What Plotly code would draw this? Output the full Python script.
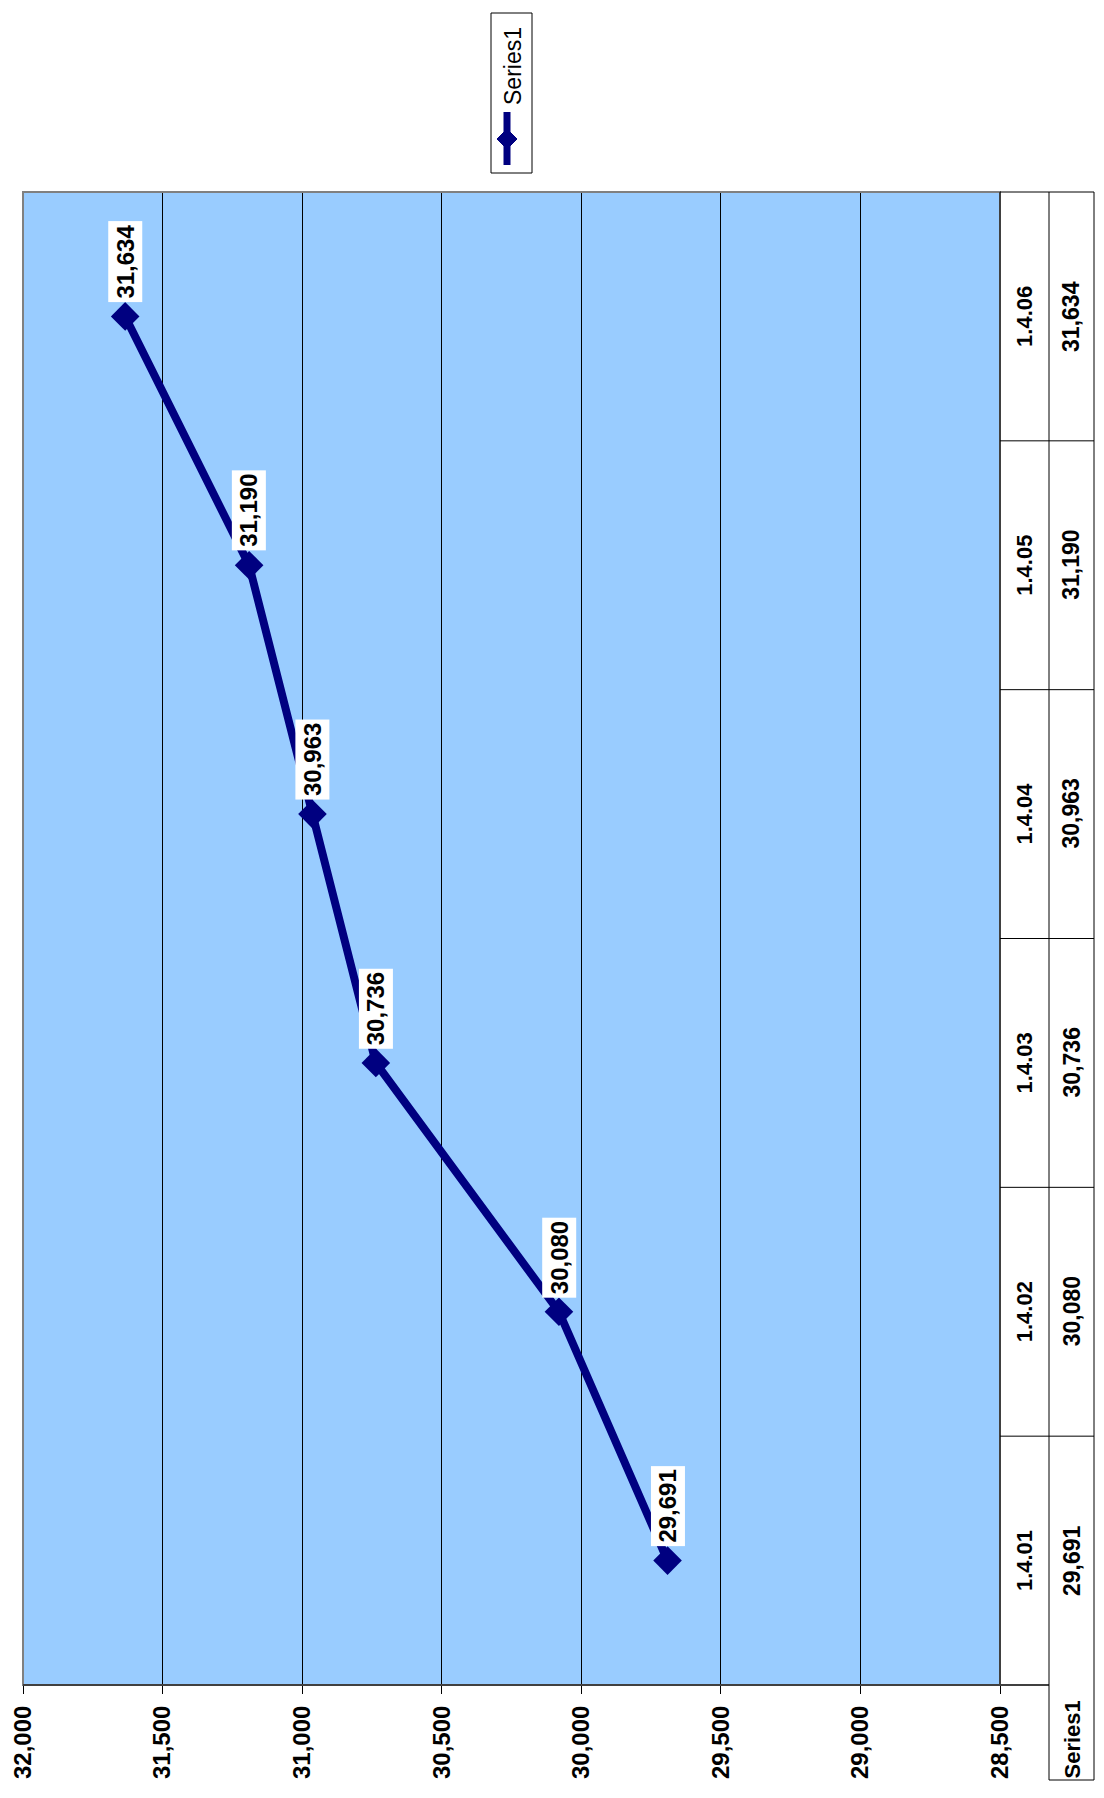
import plotly.graph_objects as go

# ---- data ----
categories = ["1.4.01", "1.4.02", "1.4.03", "1.4.04", "1.4.05", "1.4.06"]
values = [29691, 30080, 30736, 30963, 31190, 31634]
series_name = "Series1"
axis_min, axis_max, axis_step = 28500, 32000, 500

W, H = 1104, 1798
PX0, PX1, PY0, PY1 = 23, 1000, 192, 1685   # plot area in pixels
COL1, COL2 = 1049, 1094                    # data table column borders
NAVY = "#000080"
FONT = "Liberation Sans, Arial, sans-serif"


def px(x):
    return x / W


def py(y):
    return 1 - y / H


fig = go.Figure()
fig.add_trace(go.Scatter(
    x=values, y=categories, mode="lines+markers", name=series_name,
    line=dict(color=NAVY, width=8),
    marker=dict(symbol="diamond", size=22, color=NAVY),
    cliponaxis=False, showlegend=False,
))

annotations = []
# data labels
for c, v in zip(categories, values):
    annotations.append(dict(
        x=v, y=c, xref="x", yref="y", text=f"{v:,}", textangle=-90,
        showarrow=False, yanchor="bottom", xanchor="center", yshift=14,
        bgcolor="white", borderpad=3,
        font=dict(family=FONT, size=24, color="black", weight="bold"),
    ))

shapes = []
# plot border (gray)
shapes.append(dict(type="rect", xref="paper", yref="paper",
                   x0=px(PX0), x1=px(PX1), y0=py(PY1), y1=py(PY0),
                   line=dict(color="#808080", width=2), layer="above"))
# right edge / table left border
shapes.append(dict(type="line", xref="paper", yref="paper",
                   x0=px(PX1), x1=px(PX1), y0=py(PY1), y1=py(PY0),
                   line=dict(color="black", width=1), layer="above"))
# bottom axis line extended under first table column
shapes.append(dict(type="line", xref="paper", yref="paper",
                   x0=px(PX0), x1=px(COL1), y0=py(PY1), y1=py(PY1),
                   line=dict(color="#404040", width=2), layer="above"))
# table top
shapes.append(dict(type="line", xref="paper", yref="paper",
                   x0=px(PX1), x1=px(COL2), y0=py(PY0), y1=py(PY0),
                   line=dict(color="black", width=1)))
# table verticals
for xv in (COL1, COL2):
    shapes.append(dict(type="line", xref="paper", yref="paper",
                       x0=px(xv), x1=px(xv), y0=py(1780), y1=py(PY0),
                       line=dict(color="black", width=1)))
# series header bottom
shapes.append(dict(type="line", xref="paper", yref="paper",
                   x0=px(COL1), x1=px(COL2), y0=py(1780), y1=py(1780),
                   line=dict(color="black", width=1)))
# category boundaries in table
for i in range(len(categories) - 1):
    shapes.append(dict(type="line", xref="paper", yref="y",
                       x0=px(PX1), x1=px(COL2), y0=i + 0.5, y1=i + 0.5,
                       line=dict(color="black", width=1)))

# table text
for c, v in zip(categories, values):
    annotations.append(dict(
        x=px((PX1 + COL1) / 2), y=c, xref="paper", yref="y", text=c,
        textangle=-90, showarrow=False, xanchor="center", yanchor="middle",
        font=dict(family=FONT, size=22, color="black", weight="bold")))
    annotations.append(dict(
        x=px((COL1 + COL2) / 2), y=c, xref="paper", yref="y", text=f"{v:,}",
        textangle=-90, showarrow=False, xanchor="center", yanchor="middle",
        font=dict(family=FONT, size=23, color="black", weight="bold")))
annotations.append(dict(
    x=px((COL1 + COL2) / 2), y=py(1740), xref="paper", yref="paper",
    text=series_name, textangle=-90, showarrow=False,
    xanchor="center", yanchor="middle",
    font=dict(family=FONT, size=22, color="black", weight="bold")))

# legend (rotated, drawn by hand)
shapes.append(dict(type="rect", xref="paper", yref="paper",
                   x0=px(491), x1=px(532), y0=py(173), y1=py(13),
                   line=dict(color="black", width=1), fillcolor="white"))
shapes.append(dict(type="line", xref="paper", yref="paper",
                   x0=px(507), x1=px(507), y0=py(165), y1=py(112),
                   line=dict(color=NAVY, width=7)))
cx, cy, r = 507, 139, 10
path = (f"M {px(cx - r)} {py(cy)} L {px(cx)} {py(cy - r)} "
        f"L {px(cx + r)} {py(cy)} L {px(cx)} {py(cy + r)} Z")
shapes.append(dict(type="path", xref="paper", yref="paper", path=path,
                   fillcolor=NAVY, line=dict(color=NAVY, width=1)))
annotations.append(dict(
    x=px(513), y=py(66), xref="paper", yref="paper", text=series_name,
    textangle=-90, showarrow=False, xanchor="center", yanchor="middle",
    font=dict(family=FONT, size=23, color="black")))

fig.update_layout(
    width=W, height=H,
    margin=dict(l=0, r=0, t=0, b=0),
    paper_bgcolor="white", plot_bgcolor="#99CCFF",
    showlegend=False,
    xaxis=dict(domain=[px(PX0), px(PX1)], range=[axis_max, axis_min],
               dtick=axis_step, tick0=axis_min, tickformat=",d",
               tickangle=-90, ticks="outside", ticklen=8, tickcolor="black",
               ticklabelstandoff=2,
               showgrid=True, gridcolor="black", gridwidth=1,
               zeroline=False, showline=False, automargin=False,
               tickfont=dict(family=FONT, size=24, color="black", weight="bold")),
    yaxis=dict(domain=[py(PY1), py(PY0)], type="category",
               categoryorder="array", categoryarray=categories,
               range=[-0.5, len(categories) - 0.5],
               showticklabels=False, showgrid=False, zeroline=False,
               showline=False, automargin=False),
    shapes=shapes, annotations=annotations,
)

fig.write_html("out.html")
